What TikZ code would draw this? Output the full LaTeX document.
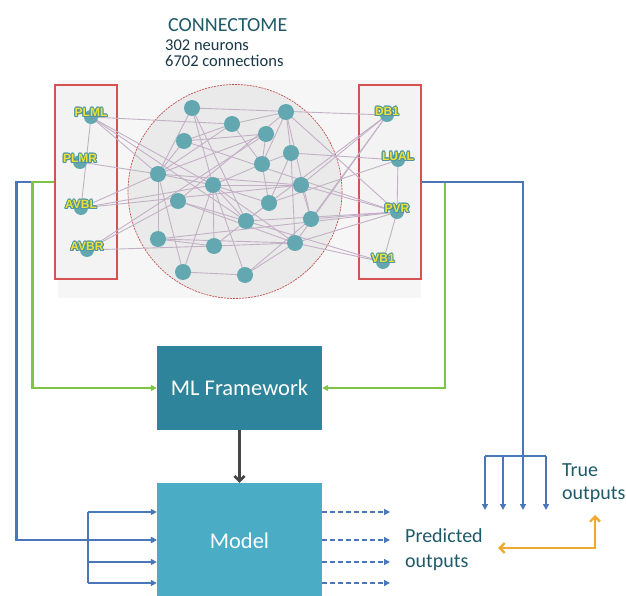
\documentclass[tikz,border=0pt]{standalone}
\usepackage{fontspec}
\setmainfont{Carlito}
\newfontfamily\lblfont{Liberation Sans}[BoldFont={Liberation Sans Bold}]
\usepackage[copies]{contour}
\contourlength{0.9pt}
\usetikzlibrary{arrows.meta,calc}

\definecolor{panelgray}{RGB}{246,246,246}
\definecolor{boxfill}{RGB}{243,243,243}
\definecolor{frameRed}{RGB}{212,82,82}
\definecolor{discfill}{RGB}{234,234,234}
\definecolor{discred}{RGB}{195,80,80}
\definecolor{edgecol}{RGB}{196,176,198}
\definecolor{neuron}{RGB}{99,168,176}
\definecolor{lblyellow}{RGB}{234,224,56}
\definecolor{lbloutline}{RGB}{80,150,162}
\definecolor{wireblue}{RGB}{74,118,186}
\definecolor{wiregreen}{RGB}{126,196,70}
\definecolor{mlcol}{RGB}{46,132,155}
\definecolor{modelcol}{RGB}{75,172,198}
\definecolor{arrowgray}{RGB}{70,70,70}
\definecolor{orangewire}{RGB}{240,168,48}
\definecolor{titleteal}{RGB}{30,90,105}
\definecolor{subdark}{RGB}{25,55,70}

\newcommand{\nlabel}[1]{\contour{lbloutline}{\textcolor{lblyellow}{#1}}}

\tikzset{
  redbox/.style={draw=frameRed, line width=1.2, fill=boxfill, minimum width=62, minimum height=194, inner sep=0},
  cell/.style={circle, fill=neuron, minimum size=16, inner sep=0},
  namedcell/.style={circle, fill=neuron, minimum size=14, inner sep=0},
  celllabel/.style={font=\lblfont\bfseries\fontsize{12}{12}\selectfont, inner sep=0},
  syn/.style={draw=edgecol, line width=0.9},
  block/.style={minimum width=165, inner sep=0, text=white, font=\fontsize{22.5}{26}\selectfont},
  bluewire/.style={draw=wireblue, line width=2.2},
  greenwire/.style={draw=wiregreen, line width=2.2},
  bluetip/.style={-{Triangle[length=6pt,width=6pt]}},
  greentip/.style={-{Triangle[length=6pt,width=6pt]}},
  plain/.style={font=\fontsize{20}{24}\selectfont, text=titleteal, inner sep=0, align=left}
}

\begin{document}
\begin{tikzpicture}[x=1pt,y=-1pt]
\clip (0,0) rectangle (626,596);
\fill[white] (0,0) rectangle (626,596);

% title
\node[anchor=west, font=\fontsize{20}{24}\selectfont, text=titleteal, inner sep=0] (title) at (168,25) {CONNECTOME};
\node[anchor=west, font=\fontsize{16.5}{20}\selectfont, text=subdark, inner sep=0] (nneur) at (165,45) {302 neurons};
\node[anchor=west, font=\fontsize{16.5}{20}\selectfont, text=subdark, inner sep=0] (nconn) at (165,61) {6702 connections};

% network panel
\fill[panelgray] (58,80) rectangle (421,298);
\node[redbox] (lbox) at (86,182) {};
\node[redbox] (rbox) at (390,182) {};
\draw[fill=discfill, draw=discred, line width=0.7, dash pattern=on 2pt off 1pt] (235,191.5) circle (107);

% neuron positions
\coordinate (a) at (192,108);
\coordinate (b) at (286,112);
\coordinate (c) at (232,124);
\coordinate (d) at (184,141);
\coordinate (e) at (266,134);
\coordinate (f) at (291,153);
\coordinate (g) at (262,164);
\coordinate (h) at (158,174);
\coordinate (i) at (213,185);
\coordinate (j) at (301,185);
\coordinate (k) at (178,201);
\coordinate (l) at (269,203);
\coordinate (m) at (246,221);
\coordinate (n) at (311,219);
\coordinate (o) at (158,239);
\coordinate (p) at (214,246);
\coordinate (q) at (295,243);
\coordinate (r) at (183,272);
\coordinate (s) at (245,275);
\coordinate (PLML) at (91,117);
\coordinate (PLMR) at (80,162);
\coordinate (AVBL) at (81,208);
\coordinate (AVBR) at (87,250);
\coordinate (DB1) at (387,115);
\coordinate (LUAL) at (398,160);
\coordinate (PVR) at (397,212);
\coordinate (VB1) at (383,262);

% synapses
\foreach \u/\v in {PLML/c,PLML/h,PLML/i,PLML/m,PLML/AVBL,PLMR/h,
  AVBL/h,AVBL/i,AVBL/j,AVBR/p,AVBR/k,AVBR/e,
  a/DB1,a/i,a/h,a/m,
  b/c,b/f,b/g,b/k,b/PVR,b/n,
  c/d,c/h,c/g,
  d/e,d/h,d/PVR,
  e/g,e/h,
  f/g,f/l,f/LUAL,f/q,
  g/i,g/l,
  h/i,h/o,h/r,h/j,
  i/j,i/m,i/p,i/s,i/r,i/q,i/l,
  j/n,j/DB1,j/PVR,
  k/m,k/q,
  l/LUAL,l/m,l/DB1,
  m/VB1,m/PVR,
  n/DB1,n/PVR,
  o/p,o/PVR,o/q,
  p/l,p/q,
  q/s,q/PVR,q/VB1,q/DB1,
  r/s,s/n,
  LUAL/PVR,PVR/VB1}
  \draw[syn] (\u) -- (\v);

\foreach \nm in {a,b,c,d,e,f,g,h,i,j,k,l,m,n,o,p,q,r,s}
  \node[cell] (cell-\nm) at (\nm) {};

% named cells: teal dot with an outlined yellow name
\foreach \nm/\dy in {PLML/-4,PLMR/-3,AVBL/-3,AVBR/-3,DB1/-3,LUAL/-3,PVR/-3,VB1/-3}{
  \node[namedcell] (cell-\nm) at (\nm) {};
  \node[celllabel] (lbl-\nm) at ($(\nm)+(0,\dy)$) {\nlabel{\nm}};
}

% learning blocks
\node[block, fill=mlcol, minimum height=84] (ml) at (239.5,388) {ML Framework};
\node[block, fill=modelcol, minimum height=120] (model) at (239.5,543) {};
\node[text=white, font=\fontsize{22.5}{26}\selectfont, inner sep=0] (modeltxt) at (239.5,541) {Model};

\draw[draw=arrowgray, line width=2.6, -{Straight Barb[length=5pt,width=10pt]}] (ml.south) -- (model.north);

% input wiring
\draw[bluewire, bluetip] (lbox.west) -- ++(-38,0) |- (model.west |- 0,540);
\draw[greenwire, greentip] (lbox.west) -- ++(-22,0) |- (ml.west);
\draw[greenwire, greentip] (rbox.east) -- ++(23,0) |- (ml.east);

\coordinate (busT) at (88,512);
\coordinate (busB) at (88,583);
\draw[bluewire] (busT) -- (busB);
\foreach \yy in {512,540,562,583}
  \draw[bluewire, bluetip] (88,\yy) -- (model.west |- 0,\yy);

% predicted outputs
\foreach \yy in {512,540,562,583}
  \draw[bluewire, bluetip, dash pattern=on 5pt off 3pt] (model.east |- 0,\yy) -- (390,\yy);

% true outputs
\coordinate (tbus) at (523,456);
\draw[bluewire] (rbox.east) -| (tbus);
\draw[bluewire] (485,456) -- (546,456);
\foreach \xx in {485,503,523,546}
  \draw[bluewire, bluetip] (\xx,456) -- (\xx,510);

\node[plain, anchor=west, font=\fontsize{20}{25}\selectfont] (pred) at (405,549.5) {Predicted\\outputs};
\node[plain, anchor=west, font=\fontsize{20}{23}\selectfont] (true) at (562,483.5) {True\\outputs};

% comparison of predicted and true outputs
\coordinate (corner) at (595,548);
\coordinate (predtip) at (498,548);
\coordinate (truetip) at (595,515);
\draw[draw=orangewire, line width=2.4, {Straight Barb[length=5pt,width=10pt]}-{Straight Barb[length=5pt,width=10pt]}] (predtip) -- (corner) -- (truetip);
\end{tikzpicture}
\end{document}
